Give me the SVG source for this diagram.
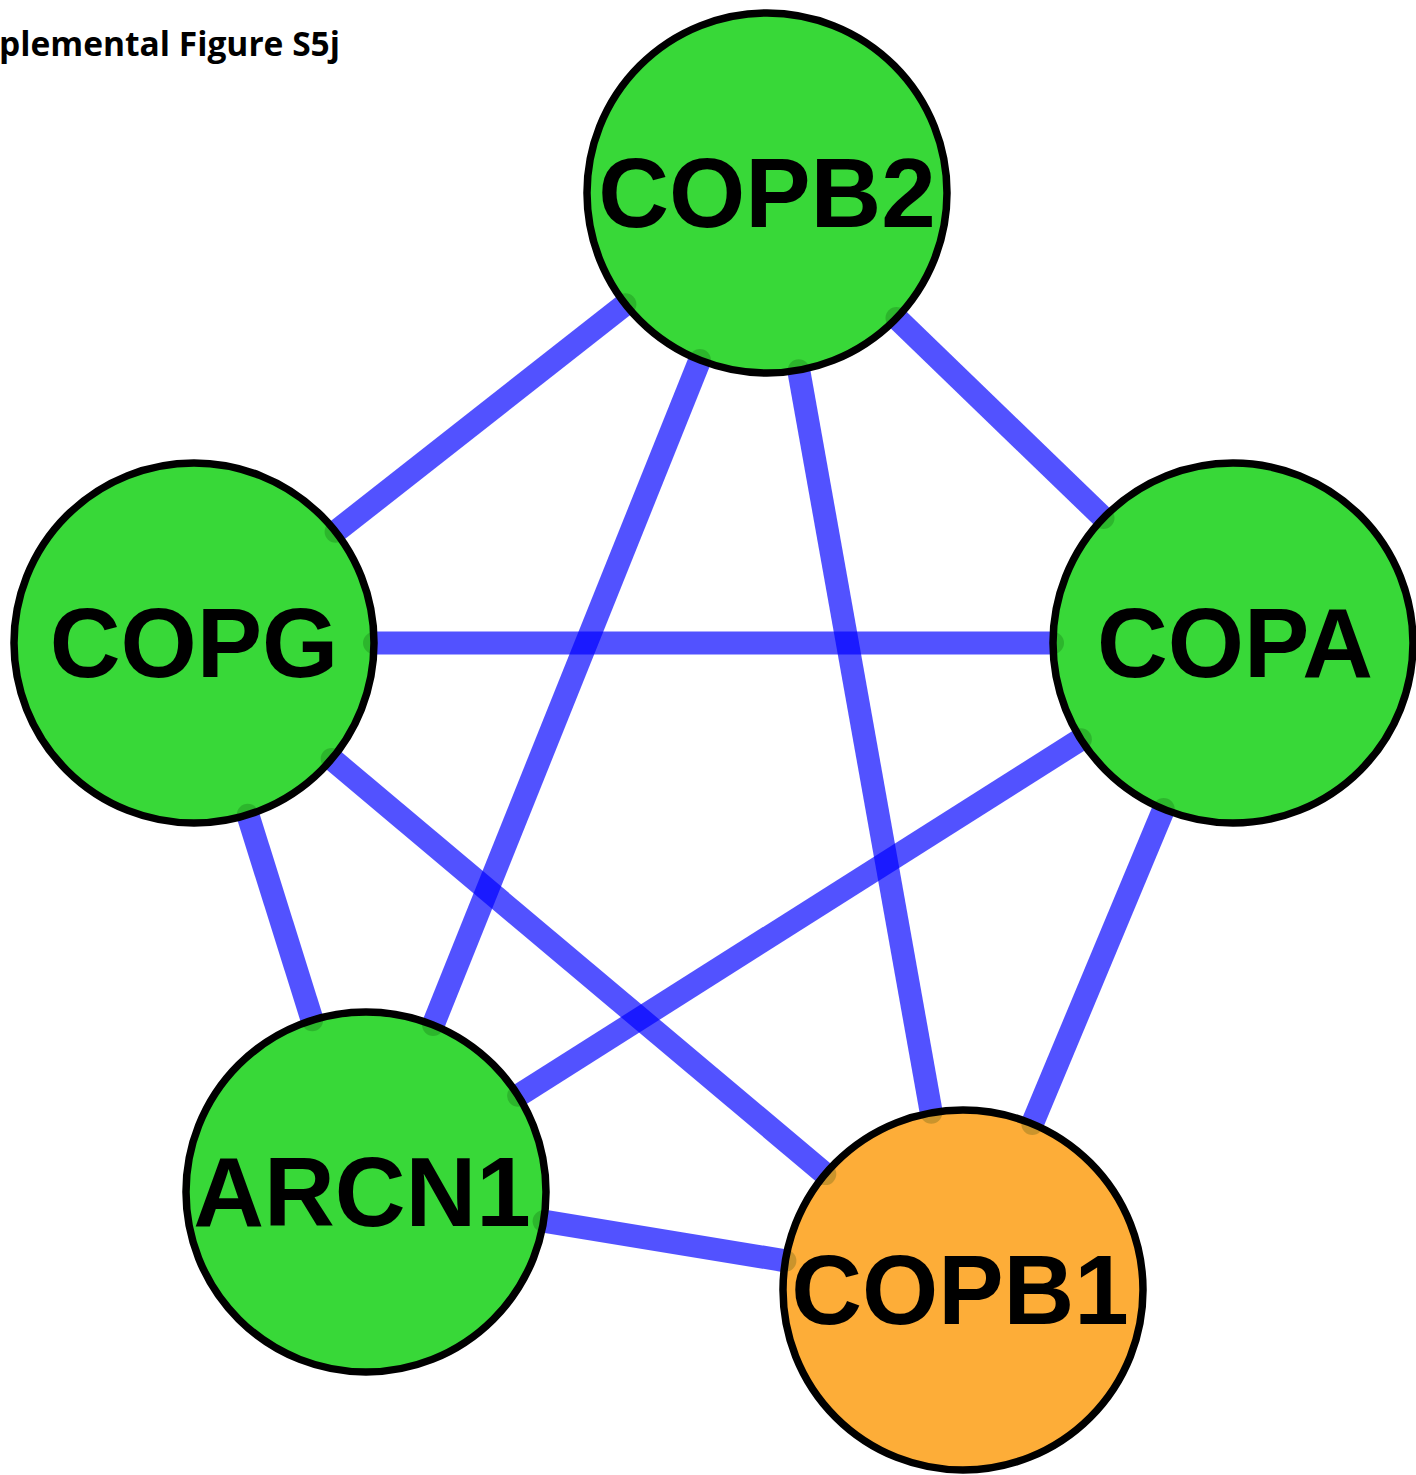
<svg xmlns="http://www.w3.org/2000/svg" width="1416" height="1475" viewBox="0 0 1416 1475">
<style>
.edge{stroke:#0000FF;stroke-opacity:0.68;stroke-width:23;fill:none}
.fill-g{fill:#38D838}
.fill-o{fill:#FDAD38}
.ring{fill:none;stroke:#000;stroke-width:7.5}
.dot{fill:#003000;fill-opacity:0.2}
.lbl{font-family:"Liberation Sans",Arial,sans-serif;font-weight:bold;font-size:98px;fill:#000;text-anchor:middle}
.title{font-family:"Open Sans","Liberation Sans",sans-serif;font-weight:bold;font-size:34px;fill:#000}
</style>
<defs>
<clipPath id="cB2"><circle cx="767" cy="193" r="180"/></clipPath>
<clipPath id="cG"><circle cx="194" cy="643" r="180"/></clipPath>
<clipPath id="cA"><circle cx="1233" cy="643" r="180"/></clipPath>
<clipPath id="cR"><circle cx="366" cy="1192" r="180"/></clipPath>
<clipPath id="cB1"><circle cx="963" cy="1290" r="180"/></clipPath>
</defs>
<rect width="1416" height="1475" fill="#fff"/>
<text class="title" x="-1" y="56" textLength="341" lengthAdjust="spacingAndGlyphs">plemental Figure S5j</text>
<g id="connectors">
<line class="edge" x1="625.4" y1="304.2" x2="335.6" y2="531.8"/>
<line class="edge" x1="896.5" y1="318" x2="1103.5" y2="518"/>
<line class="edge" x1="699.9" y1="360" x2="433.1" y2="1025"/>
<line class="edge" x1="798.7" y1="370.2" x2="931.3" y2="1112.8"/>
<line class="edge" x1="374" y1="643" x2="1053" y2="643"/>
<line class="edge" x1="247.8" y1="814.8" x2="312.2" y2="1020.2"/>
<line class="edge" x1="331.7" y1="758.9" x2="825.3" y2="1174.1"/>
<line class="edge" x1="1080.9" y1="739.3" x2="518.1" y2="1095.7"/>
<line class="edge" x1="1163.7" y1="809.1" x2="1032.3" y2="1123.9"/>
<line class="edge" x1="543.6" y1="1221.2" x2="785.4" y2="1260.8"/>
</g>
<g id="node-COPB2">
<circle class="fill-g" cx="767" cy="193" r="180"/>
<g clip-path="url(#cB2)">
<circle class="dot" cx="625.4" cy="304.2" r="11"/>
<circle class="dot" cx="896.5" cy="318" r="11"/>
<circle class="dot" cx="699.9" cy="360" r="11"/>
<circle class="dot" cx="798.7" cy="370.2" r="11"/>
</g>
<circle class="ring" cx="767" cy="193" r="180"/>
<text class="lbl" x="767" y="227">COPB2</text>
</g>
<g id="node-COPG">
<circle class="fill-g" cx="194" cy="643" r="180"/>
<g clip-path="url(#cG)">
<circle class="dot" cx="335.6" cy="531.8" r="11"/>
<circle class="dot" cx="374" cy="643" r="11"/>
<circle class="dot" cx="247.8" cy="814.8" r="11"/>
<circle class="dot" cx="331.7" cy="758.9" r="11"/>
</g>
<circle class="ring" cx="194" cy="643" r="180"/>
<text class="lbl" x="194" y="677">COPG</text>
</g>
<g id="node-COPA">
<circle class="fill-g" cx="1233" cy="643" r="180"/>
<g clip-path="url(#cA)">
<circle class="dot" cx="1103.5" cy="518" r="11"/>
<circle class="dot" cx="1053" cy="643" r="11"/>
<circle class="dot" cx="1080.9" cy="739.3" r="11"/>
<circle class="dot" cx="1163.7" cy="809.1" r="11"/>
</g>
<circle class="ring" cx="1233" cy="643" r="180"/>
<text class="lbl" x="1235" y="677">COPA</text>
</g>
<g id="node-ARCN1">
<circle class="fill-g" cx="366" cy="1192" r="180"/>
<g clip-path="url(#cR)">
<circle class="dot" cx="433.1" cy="1025" r="11"/>
<circle class="dot" cx="312.2" cy="1020.2" r="11"/>
<circle class="dot" cx="518.1" cy="1095.7" r="11"/>
<circle class="dot" cx="543.6" cy="1221.2" r="11"/>
</g>
<circle class="ring" cx="366" cy="1192" r="180"/>
<text class="lbl" x="362" y="1226">ARCN1</text>
</g>
<g id="node-COPB1">
<circle class="fill-o" cx="963" cy="1290" r="180"/>
<g clip-path="url(#cB1)">
<circle class="dot" cx="931.3" cy="1112.8" r="11"/>
<circle class="dot" cx="825.3" cy="1174.1" r="11"/>
<circle class="dot" cx="1032.3" cy="1123.9" r="11"/>
<circle class="dot" cx="785.4" cy="1260.8" r="11"/>
</g>
<circle class="ring" cx="963" cy="1290" r="180"/>
<text class="lbl" x="960" y="1324">COPB1</text>
</g>
</svg>
